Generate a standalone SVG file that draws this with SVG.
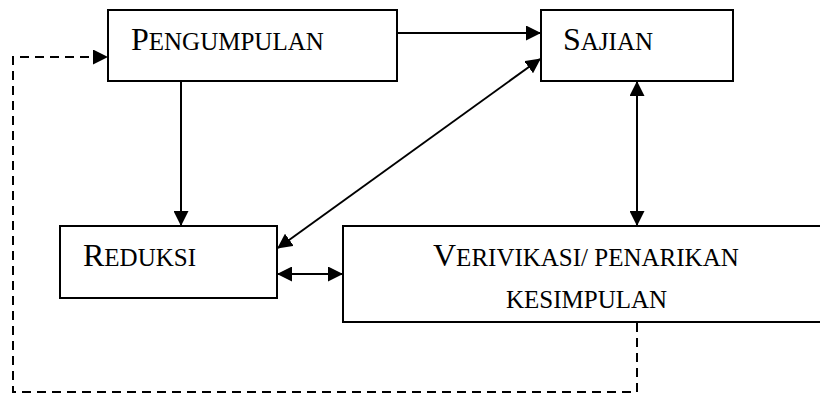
<svg xmlns="http://www.w3.org/2000/svg" width="820" height="394" viewBox="0 0 820 394">
<style>
.box{fill:#fff;stroke:#000;stroke-width:2}
.t{font-family:"Liberation Serif","Times New Roman",serif;fill:#000;font-size:25px}
.big{font-size:32px}
.ln{fill:none;stroke:#000;stroke-width:2}
.dash{stroke-dasharray:9 6}
</style>
<defs>
<marker id="ah" markerUnits="userSpaceOnUse" markerWidth="15" markerHeight="15" viewBox="0 0 15 15" refX="14" refY="7.5" orient="auto-start-reverse">
<path d="M0,0 L15,7.5 L0,15 Z" fill="#000"/>
</marker>
</defs>
<rect width="820" height="394" fill="#fff"/>
<g id="connectors">
<line class="ln" x1="398" y1="33" x2="540" y2="33" marker-end="url(#ah)"/>
<line class="ln" x1="181" y1="82" x2="181" y2="225" marker-end="url(#ah)"/>
<line class="ln" x1="278" y1="248" x2="540" y2="59" marker-start="url(#ah)" marker-end="url(#ah)"/>
<line class="ln" x1="637" y1="82" x2="637" y2="225" marker-start="url(#ah)" marker-end="url(#ah)"/>
<line class="ln" x1="278" y1="274" x2="342" y2="274" marker-start="url(#ah)" marker-end="url(#ah)"/>
<polyline class="ln dash" points="637,323 637,392 13,392 13,57 107,57" marker-end="url(#ah)"/>
</g>
<g id="pengumpulan">
<rect class="box" x="108" y="10" width="289" height="71"/>
<text class="t" x="131" y="50"><tspan class="big">P</tspan>ENGUMPULAN</text>
</g>
<g id="sajian">
<rect class="box" x="541" y="10" width="192" height="71"/>
<text class="t" x="563" y="50"><tspan class="big">S</tspan>AJIAN</text>
</g>
<g id="reduksi">
<rect class="box" x="60" y="226" width="217" height="72"/>
<text class="t" x="83" y="266"><tspan class="big">R</tspan>EDUKSI</text>
</g>
<g id="verivikasi">
<rect class="box" x="343" y="226" width="490" height="96"/>
<text class="t" x="433" y="266"><tspan class="big">V</tspan>ERIVIKASI/ PENARIKAN</text>
<text class="t" x="506" y="308">KESIMPULAN</text>
</g>
</svg>
